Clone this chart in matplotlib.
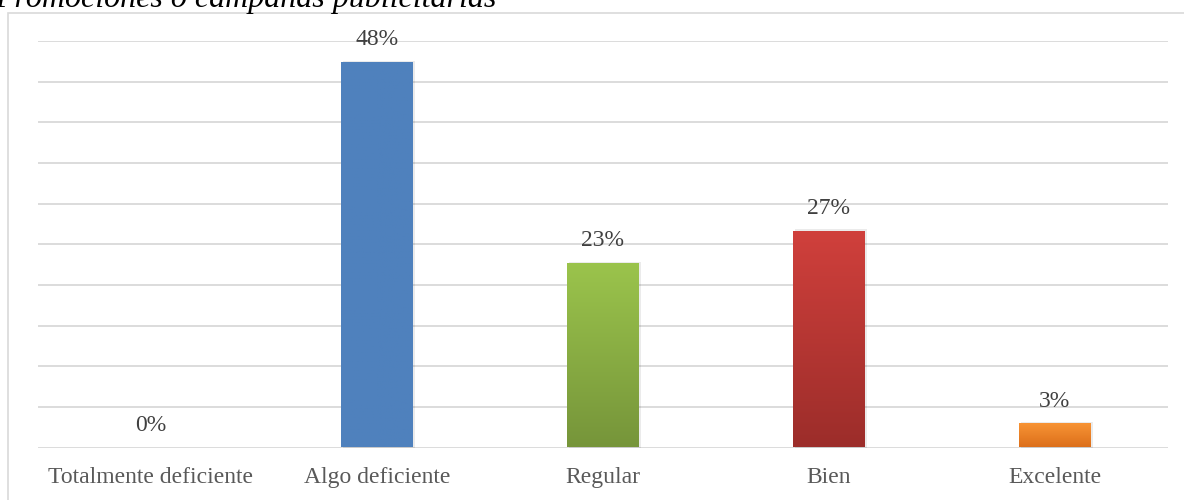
import numpy as np
import matplotlib
matplotlib.use('Agg')
import matplotlib.pyplot as plt
from matplotlib.patches import Rectangle
from matplotlib.colors import LinearSegmentedColormap

categorias = ["Totalmente deficiente", "Algo deficiente", "Regular", "Bien", "Excelente"]
porcentajes = [0, 48, 23, 27, 3]
etiquetas = ["0%", "48%", "23%", "27%", "3%"]
# color superior / inferior de cada barra (degradado)
colores_sup = ["#4F81BD", "#4F81BD", "#9BC44C", "#D0403C", "#F99535"]
colores_inf = ["#4F81BD", "#4F81BD", "#76953A", "#9C2D2A", "#DC6F1B"]
titulo = "Promociones o campañas publicitarias"

plt.rcParams['font.family'] = ['Liberation Serif', 'DejaVu Serif']

W, H = 1184, 500
fig = plt.figure(figsize=(W / 100, H / 100), dpi=100)
ax = fig.add_axes([38 / W, (H - 447.5) / H, 1130 / W, (447.5 - 41) / H])

ymax = 50.6
x = np.arange(len(categorias))
ancho = 0.315

# cuadricula horizontal
for yv in np.linspace(0, ymax, 11):
    ax.axhline(yv, color='#D9D9D9', lw=1.3, zorder=0)

grad = np.linspace(0, 1, 256).reshape(-1, 1)
for i, v in enumerate(porcentajes):
    if v <= 0:
        continue
    # sombra suave
    sombra = Rectangle((x[i] - ancho / 2 + 0.006, 0), ancho + 0.004, v + 0.15,
                       facecolor='#000000', alpha=0.08, edgecolor='none', zorder=1)
    ax.add_patch(sombra)
    barra = Rectangle((x[i] - ancho / 2, 0), ancho, v, facecolor='none',
                      edgecolor='none', zorder=2)
    ax.add_patch(barra)
    cmap = LinearSegmentedColormap.from_list(f"g{i}", [colores_inf[i], colores_sup[i]])
    im = ax.imshow(grad, cmap=cmap, aspect='auto', origin='lower',
                   extent=(x[i] - ancho / 2, x[i] + ancho / 2, 0, v), zorder=2)
    im.set_clip_path(barra)

for i, v in enumerate(porcentajes):
    ax.annotate(etiquetas[i], (x[i], v), xytext=(0, 8.5), textcoords='offset points',
                ha='center', va='bottom', fontsize=17, color='#404040', zorder=3)

ax.set_xlim(-0.5, len(categorias) - 0.5)
ax.set_ylim(0, ymax)
ax.set_xticks(x)
ax.set_xticklabels(categorias, fontsize=17, color='#595959')
ax.tick_params(axis='x', length=0, pad=14)
ax.set_yticks([])
for s in ax.spines.values():
    s.set_visible(False)

# marco del grafico
fig.patches.append(Rectangle((8 / W, -0.1), 1.2, (H - 13) / H + 0.1, transform=fig.transFigure,
                             facecolor='none', edgecolor='#D9D9D9', lw=1.2))

fig.text(-0.004, 1 - 7.5 / H, titulo, fontsize=23, style='italic', color='black',
         ha='left', va='baseline')

fig.savefig("out.png", dpi=100)
